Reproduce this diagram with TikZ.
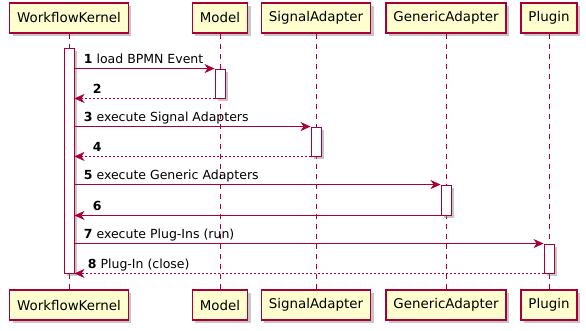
\documentclass[tikz,border=0pt]{standalone}
\usepackage{fontspec}
\setmainfont{DejaVu Sans}
\usetikzlibrary{positioning,arrows.meta,shadows}

\definecolor{umlred}{HTML}{A80036}
\definecolor{umlfill}{HTML}{FEFECE}

\tikzset{
  part/.style={draw=umlred,fill=umlfill,line width=1.3pt,minimum height=30pt,
    inner xsep=7.5pt,font=\fontsize{13.4}{15}\selectfont,
    drop shadow={shadow xshift=3pt,shadow yshift=-3pt,opacity=.45}},
  life/.style={umlred,line width=.8pt,dash pattern=on 5pt off 5pt},
  actbar/.style={draw=umlred,fill=white,line width=.9pt,minimum width=10pt,inner sep=0pt,
    drop shadow={shadow xshift=3pt,shadow yshift=-3pt,opacity=.45}},
  msg/.style={umlred,line width=.9pt,-{Stealth[length=10pt,width=9pt,inset=3pt]}},
  reply/.style={msg,dash pattern=on 2pt off 2pt},
  lbl/.style={text=black,font=\fontsize{12.5}{14}\selectfont,inner sep=0pt,anchor=base west},
}

\begin{document}
\begin{tikzpicture}[x=1pt,y=-1pt]
  \useasboundingbox (0,0) rectangle (586,330);

  % participants, head and foot
  \node[part] (kernel) at (69,18) {WorkflowKernel};
  \node[part] (model) at (220,18) {Model};
  \node[part] (signal) at (316,18) {SignalAdapter};
  \node[part] (generic) at (446,18) {GenericAdapter};
  \node[part] (plugin) at (549,18) {Plugin};

  \node[part] (kernel foot) at (69,305) {WorkflowKernel};
  \node[part] (model foot) at (220,305) {Model};
  \node[part] (signal foot) at (316,305) {SignalAdapter};
  \node[part] (generic foot) at (446,305) {GenericAdapter};
  \node[part] (plugin foot) at (549,305) {Plugin};

  % lifelines
  \foreach \p in {kernel,model,signal,generic,plugin}
    \draw[life] (\p) -- (\p\space foot);

  % activations
  \node[actbar,minimum height=225pt] (kernel bar) at (69,160.5) {};
  \node[actbar,minimum height=29pt] (model bar) at (220,83.5) {};
  \node[actbar,minimum height=29pt] (signal bar) at (316,141.5) {};
  \node[actbar,minimum height=30pt] (generic bar) at (446,200) {};
  \node[actbar,minimum height=29pt] (plugin bar) at (549,258.5) {};

  % messages
  \draw[msg] (kernel bar.east |- model bar.north) --
    node[lbl,pos=0,xshift=9pt,yshift=5pt] {\textbf{1} load BPMN Event} (model bar.north west);
  \draw[reply] (model bar.south west) --
    node[lbl,pos=1,xshift=18pt,yshift=5pt] {\textbf{2}} (kernel bar.east |- model bar.south);

  \draw[msg] (kernel bar.east |- signal bar.north) --
    node[lbl,pos=0,xshift=9pt,yshift=5pt] {\textbf{3} execute Signal Adapters} (signal bar.north west);
  \draw[reply] (signal bar.south west) --
    node[lbl,pos=1,xshift=18pt,yshift=5pt] {\textbf{4}} (kernel bar.east |- signal bar.south);

  \draw[msg] (kernel bar.east |- generic bar.north) --
    node[lbl,pos=0,xshift=9pt,yshift=5pt] {\textbf{5} execute Generic Adapters} (generic bar.north west);
  \draw[msg] (generic bar.south west) --
    node[lbl,pos=1,xshift=18pt,yshift=5pt] {\textbf{6}} (kernel bar.east |- generic bar.south);

  \draw[msg] (kernel bar.east |- plugin bar.north) --
    node[lbl,pos=0,xshift=9pt,yshift=5pt] {\textbf{7} execute Plug-Ins (run)} (plugin bar.north west);
  \draw[reply] (plugin bar.south west) --
    node[lbl,pos=1,xshift=13pt,yshift=5pt] {\textbf{8} Plug-In (close)} (kernel bar.east |- plugin bar.south);
\end{tikzpicture}
\end{document}
